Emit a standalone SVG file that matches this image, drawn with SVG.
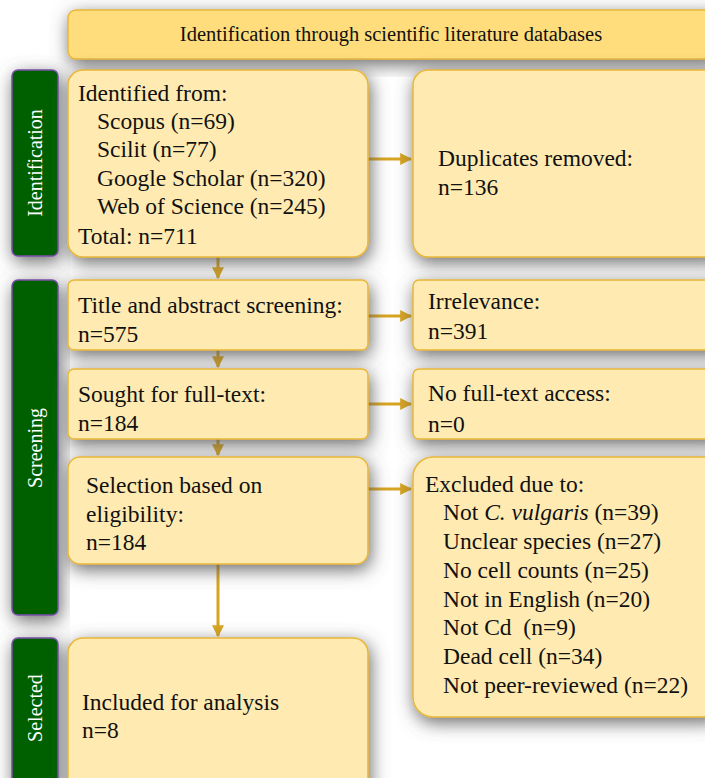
<svg xmlns="http://www.w3.org/2000/svg" width="705" height="778" viewBox="0 0 705 778">
<defs>
<filter id="sh" x="-25%" y="-25%" width="150%" height="160%">
<feDropShadow dx="2" dy="5" stdDeviation="9" flood-color="#5a5a5a" flood-opacity="0.9"/>
</filter>
<marker id="ah" viewBox="0 0 10 10" refX="9" refY="5" markerWidth="4" markerHeight="4" orient="auto" markerUnits="strokeWidth">
<path d="M0,0 L10,5 L0,10 z" fill="#D9A520"/>
</marker>
<style>
.box{fill:#FFEBB2;stroke:#E8B73A;stroke-width:1.5;filter:url(#sh)}
.ban{fill:#FFDD7C;stroke:#E8B73A;stroke-width:1.5;filter:url(#sh)}
.side{fill:#006000;stroke:#7A4FA8;stroke-width:1.5;filter:url(#sh)}
text{font-family:'Liberation Serif','DejaVu Serif',serif}
.t{font-size:23.5px;fill:#111}
.bt{font-size:20.5px;fill:#111}
.st{font-size:20px;fill:#fff}
.c{stroke:#D9A520;stroke-width:3;fill:none;marker-end:url(#ah)}
</style>
</defs>
<rect width="705" height="778" fill="#fff"/>
<g id="banner">
<rect class="ban" x="68" y="10" width="650" height="49" rx="8"/>
<text class="bt" x="391" y="41" text-anchor="middle">Identification through scientific literature databases</text>
</g>
<g id="side-identification">
<rect class="side" x="12" y="70" width="46" height="186" rx="6"/>
<text class="st" transform="translate(42,163) rotate(-90)" text-anchor="middle">Identification</text>
</g>
<g id="side-screening">
<rect class="side" x="12" y="280" width="46" height="335" rx="6"/>
<text class="st" transform="translate(42,448) rotate(-90)" text-anchor="middle">Screening</text>
</g>
<g id="side-selected">
<rect class="side" x="12" y="638" width="46" height="150" rx="6"/>
<text class="st" transform="translate(42,708) rotate(-90)" text-anchor="middle">Selected</text>
</g>
<g id="connectors">
<path class="c" d="M368,159 H411"/>
<path class="c" d="M218,257 V278"/>
<path class="c" d="M368,316 H411"/>
<path class="c" d="M218,350 V367"/>
<path class="c" d="M368,404 H411"/>
<path class="c" d="M218,439 V455"/>
<path class="c" d="M368,489 H411"/>
<path class="c" d="M218,564 V636"/>
</g>
<g id="identified">
<rect class="box" x="68" y="70" width="300" height="187" rx="15"/>
<text class="t" x="78" y="101">Identified from:</text>
<text class="t" x="97" y="129">Scopus (n=69)</text>
<text class="t" x="97" y="157">Scilit (n=77)</text>
<text class="t" x="97" y="186">Google Scholar (n=320)</text>
<text class="t" x="97" y="214">Web of Science (n=245)</text>
<text class="t" x="78" y="244">Total: n=711</text>
</g>
<g id="duplicates">
<rect class="box" x="413" y="70" width="310" height="187" rx="15"/>
<text class="t" x="438" y="166">Duplicates removed:</text>
<text class="t" x="438" y="195">n=136</text>
</g>
<g id="title-screening">
<rect class="box" x="68" y="280" width="300" height="70" rx="6"/>
<text class="t" x="78" y="313">Title and abstract screening:</text>
<text class="t" x="78" y="342">n=575</text>
</g>
<g id="irrelevance">
<rect class="box" x="413" y="280" width="310" height="70" rx="6"/>
<text class="t" x="428" y="309">Irrelevance:</text>
<text class="t" x="428" y="339">n=391</text>
</g>
<g id="sought">
<rect class="box" x="68" y="369" width="300" height="70" rx="6"/>
<text class="t" x="78" y="402">Sought for full-text:</text>
<text class="t" x="78" y="431">n=184</text>
</g>
<g id="no-access">
<rect class="box" x="413" y="369" width="310" height="70" rx="6"/>
<text class="t" x="428" y="401">No full-text access:</text>
<text class="t" x="428" y="432">n=0</text>
</g>
<g id="selection">
<rect class="box" x="68" y="457" width="300" height="107" rx="12"/>
<text class="t" x="86" y="493">Selection based on</text>
<text class="t" x="86" y="522">eligibility:</text>
<text class="t" x="86" y="550">n=184</text>
</g>
<g id="excluded">
<rect class="box" x="413" y="457" width="310" height="260" rx="20"/>
<text class="t" x="425" y="492">Excluded due to:</text>
<text class="t" x="443" y="520">Not <tspan font-style="italic">C. vulgaris</tspan> (n=39)</text>
<text class="t" x="443" y="549">Unclear species (n=27)</text>
<text class="t" x="443" y="578">No cell counts (n=25)</text>
<text class="t" x="443" y="607">Not in English (n=20)</text>
<text class="t" x="443" y="635" xml:space="preserve">Not Cd  (n=9)</text>
<text class="t" x="443" y="664">Dead cell (n=34)</text>
<text class="t" x="443" y="693">Not peer-reviewed (n=22)</text>
</g>
<g id="included">
<rect class="box" x="68" y="638" width="300" height="160" rx="15"/>
<text class="t" x="82" y="710">Included for analysis</text>
<text class="t" x="82" y="738">n=8</text>
</g>
</svg>
